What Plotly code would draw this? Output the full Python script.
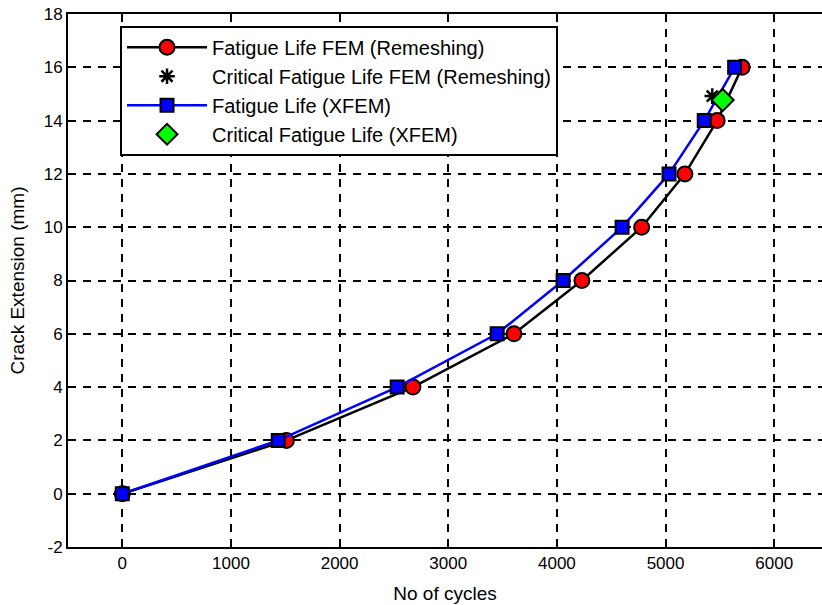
import plotly.graph_objects as go

crack_ext = [0, 2, 4, 6, 8, 10, 12, 14, 16]
cycles_fem = [0, 1510, 2675, 3605, 4230, 4780, 5178, 5475, 5705]
cycles_xfem = [0, 1435, 2530, 3450, 4057, 4600, 5032, 5356, 5636]
crit_fem_x = [5430]
crit_fem_y = [14.92]
crit_xfem_x = [5525]
crit_xfem_y = [14.77]

xticks = [0, 1000, 2000, 3000, 4000, 5000, 6000]
yticks = [-2, 0, 2, 4, 6, 8, 10, 12, 14, 16, 18]
ytick_labels = ["-2", "0", "2", "4", "6", "8", "10", "12", "14", "16", "18"]

fig = go.Figure()
fig.add_trace(go.Scatter(
    x=cycles_fem, y=crack_ext, mode="lines+markers",
    name="Fatigue Life FEM (Remeshing)", legendgroup="a",
    line=dict(color="black", width=2.5),
    marker=dict(symbol="circle", size=15, color="#ff0000", line=dict(color="black", width=2)),
))
fig.add_trace(go.Scatter(
    x=crit_fem_x, y=crit_fem_y, mode="markers",
    name="Critical Fatigue Life FEM (Remeshing)", legendgroup="b",
    marker=dict(symbol="asterisk-open", size=13, color="black", line=dict(color="black", width=2.5)),
))
fig.add_trace(go.Scatter(
    x=cycles_xfem, y=crack_ext, mode="lines+markers",
    name="Fatigue Life (XFEM)", legendgroup="c",
    line=dict(color="#0000ff", width=2.5),
    marker=dict(symbol="square", size=13, color="#0000ff", line=dict(color="black", width=2)),
))
fig.add_trace(go.Scatter(
    x=crit_xfem_x, y=crit_xfem_y, mode="markers",
    name="Critical Fatigue Life (XFEM)", legendgroup="d",
    marker=dict(symbol="diamond", size=17, color="#00ff00", line=dict(color="black", width=2)),
))

font = "Liberation Sans, Arial, Helvetica, sans-serif"
axis_common = dict(
    showgrid=True, gridcolor="black", gridwidth=1.5, griddash="8px,7px",
    showline=True, linecolor="black", linewidth=2,
    ticks="inside", ticklen=6, tickwidth=1.5, tickcolor="black",
    zeroline=False, tickfont=dict(family=font, size=17, color="black"),
)
fig.update_xaxes(range=[-500, 6440], tickvals=xticks, mirror="ticks",
                 title=dict(text="No of cycles", font=dict(family=font, size=19, color="black"), standoff=14),
                 **axis_common)
fig.update_yaxes(range=[-2, 18], tickvals=yticks, ticktext=ytick_labels, mirror=False,
                 title=dict(text="Crack Extension (mm)", font=dict(family=font, size=19, color="black"), standoff=14),
                 **axis_common)

fig.update_layout(
    width=822, height=605,
    margin=dict(l=68, r=0, t=14, b=58),
    plot_bgcolor="white", paper_bgcolor="white",
    font=dict(family=font, size=17, color="black"),
    legend=dict(x=0.069, y=0.978, xanchor="left", yanchor="top",
                bgcolor="white", bordercolor="black", borderwidth=2,
                font=dict(family=font, size=20, color="black"),
                tracegroupgap=0, itemwidth=80),
)

fig.write_html("out.html")
